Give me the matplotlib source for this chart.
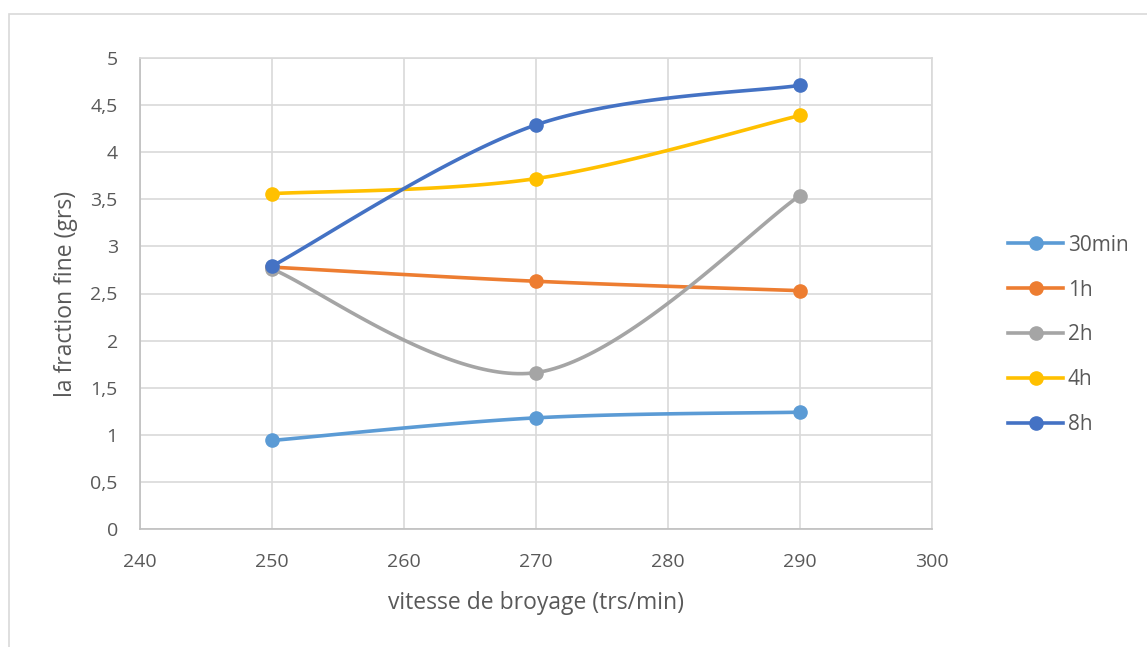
import numpy as np
import matplotlib
matplotlib.use("Agg")
import matplotlib.pyplot as plt
from matplotlib.patches import Rectangle

# vitesse de broyage (trs/min) et fraction fine (grs) par durée
vitesse = [250, 270, 290]
series_labels = ["30min", "1h", "2h", "4h", "8h"]
frac_30min = [0.94, 1.18, 1.24]
frac_1h = [2.78, 2.63, 2.53]
frac_2h = [2.76, 1.66, 3.54]
frac_4h = [3.56, 3.72, 4.39]
frac_8h = [2.79, 4.29, 4.71]
colors = ["#5B9BD5", "#ED7D31", "#A5A5A5", "#FFC000", "#4472C4"]

x_ticks = [240, 250, 260, 270, 280, 290, 300]
y_ticks = [0, 0.5, 1, 1.5, 2, 2.5, 3, 3.5, 4, 4.5, 5]


def smooth(xs, ys, n=60):
    """Courbe lissée type Catmull-Rom (Bezier) passant par les points."""
    p = np.column_stack([xs, ys]).astype(float)
    out = []
    for i in range(len(p) - 1):
        p0 = p[i - 1] if i > 0 else p[i]
        p1, p2 = p[i], p[i + 1]
        p3 = p[i + 2] if i + 2 < len(p) else p[i + 1]
        c1 = p1 + (p2 - p0) / 6
        c2 = p2 - (p3 - p1) / 6
        t = np.linspace(0, 1, n)[:, None]
        seg = ((1 - t) ** 3) * p1 + 3 * ((1 - t) ** 2) * t * c1 \
            + 3 * (1 - t) * t ** 2 * c2 + t ** 3 * p2
        out.append(seg if i == 0 else seg[1:])
    seg = np.vstack(out)
    return seg[:, 0], seg[:, 1]


plt.rcParams['font.family'] = ['Open Sans', 'DejaVu Sans']
text_col = "#595959"

fig = plt.figure(figsize=(11.47, 6.47), dpi=100)
fig.patches.append(Rectangle((9 / 1147, -0.1), 1.2, 1 - 14 / 647 + 0.1,
                             transform=fig.transFigure, fill=False,
                             edgecolor="#d9d9d9", linewidth=1.2))
ax = fig.add_axes([140 / 1147, 1 - 529 / 647, 792 / 1147, 471 / 647])

all_series = [frac_30min, frac_1h, frac_2h, frac_4h, frac_8h]
for label, ys, col in zip(series_labels, all_series, colors):
    sx, sy = smooth(vitesse, ys)
    ax.plot(sx, sy, color=col, linewidth=2.6, solid_capstyle="round", zorder=3)
    ax.plot(vitesse, ys, linestyle="none", marker="o", markersize=9.5,
            color=col, zorder=4)
    ax.plot([], [], color=col, linewidth=2.6, marker="o", markersize=9.5,
            label=label)

ax.set_xlim(240, 300)
ax.set_ylim(0, 5)
ax.set_xticks(x_ticks)
ax.set_yticks(y_ticks)
ax.set_yticklabels([f"{v:g}".replace(".", ",") for v in y_ticks])
ax.grid(True, color="#d9d9d9", linewidth=1.2, zorder=0)
ax.set_axisbelow(True)
for side in ["top", "right"]:
    ax.spines[side].set_color("#d9d9d9")
    ax.spines[side].set_linewidth(1.2)
for side in ["left", "bottom"]:
    ax.spines[side].set_color("#bfbfbf")
    ax.spines[side].set_linewidth(1.2)
ax.tick_params(length=0, labelsize=14, colors=text_col)
ax.tick_params(axis="x", pad=17)
ax.tick_params(axis="y", pad=16)
ax.set_xlabel("vitesse de broyage (trs/min)", fontsize=16.5, color=text_col,
              labelpad=15)
ax.set_ylabel("la fraction fine (grs)", fontsize=16.5, color=text_col,
              labelpad=9)

leg = fig.legend(loc="center left", bbox_to_anchor=(998 / 1147, 1 - 335 / 647),
                 frameon=False, fontsize=15, labelspacing=1.15,
                 handlelength=2.6, handletextpad=0.25, borderpad=0)
for t in leg.get_texts():
    t.set_color(text_col)

fig.savefig("out.png", dpi=100)
